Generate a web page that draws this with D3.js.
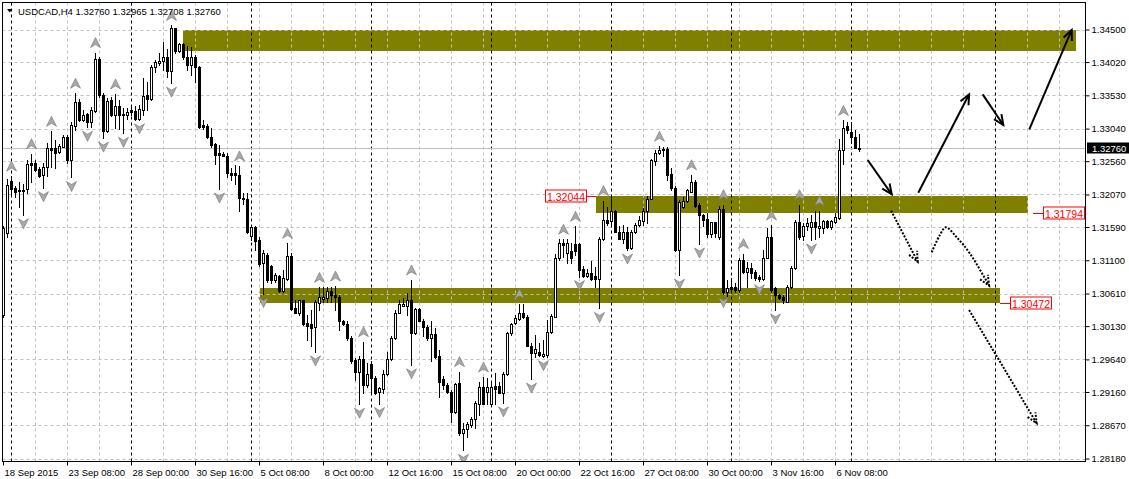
<!DOCTYPE html>
<html>
<head>
<meta charset="utf-8">
<script src="https://cdnjs.cloudflare.com/ajax/libs/d3/7.8.5/d3.min.js"></script>
<style>
body { margin: 0; background: #fff; }
svg { display: block; }
text { font-family: Tahoma, "Liberation Sans", Arial, sans-serif; }
</style>
</head>
<body>
<svg id="chart" width="1129" height="479"></svg>
<script>
"use strict";

var symbolTitle = "USDCAD,H4  1.32760 1.32965 1.32708 1.32760";
var lastPrice = 1.32760;
var barsPerLabel = 16;

var timeLabels = ["18 Sep 2015", "23 Sep 08:00", "28 Sep 00:00", "30 Sep 16:00", "5 Oct 08:00",
    "8 Oct 00:00", "12 Oct 16:00", "15 Oct 08:00", "20 Oct 00:00", "22 Oct 16:00",
    "27 Oct 08:00", "30 Oct 00:00", "3 Nov 16:00", "6 Nov 08:00"];

var priceTicks = [1.34500, 1.34020, 1.33530, 1.33040, 1.32560, 1.32070, 1.31590,
    1.31100, 1.30610, 1.30130, 1.29640, 1.29160, 1.28670, 1.28180];

// open, high, low, close (H4 bars, oldest first)
var ohlc = [
    [1.3029, 1.3160, 1.3027, 1.3158], [1.3150, 1.3230, 1.3144, 1.3221], [1.3227, 1.3234, 1.3206, 1.3215],
    [1.3217, 1.3220, 1.3203, 1.3211], [1.3213, 1.3225, 1.3189, 1.3212], [1.3212, 1.3222, 1.3177, 1.3213],
    [1.3215, 1.3258, 1.3209, 1.3252], [1.3253, 1.3267, 1.3225, 1.3251], [1.3253, 1.3258, 1.3242, 1.3243],
    [1.3245, 1.3248, 1.3233, 1.3234], [1.3235, 1.3254, 1.3217, 1.3248], [1.3248, 1.3283, 1.3234, 1.3276],
    [1.3276, 1.3300, 1.3248, 1.3273], [1.3275, 1.3287, 1.3246, 1.3268], [1.3270, 1.3282, 1.3268, 1.3279],
    [1.3277, 1.3295, 1.3277, 1.3292], [1.3292, 1.3295, 1.3253, 1.3258], [1.3258, 1.3314, 1.3232, 1.3309],
    [1.3308, 1.3356, 1.3302, 1.3343], [1.3343, 1.3347, 1.3315, 1.3317], [1.3317, 1.3331, 1.3315, 1.3324],
    [1.3325, 1.3327, 1.3306, 1.3313], [1.3313, 1.3336, 1.3306, 1.3331], [1.3330, 1.3416, 1.3329, 1.3406],
    [1.3406, 1.3410, 1.3351, 1.3353], [1.3353, 1.3356, 1.3290, 1.3301], [1.3301, 1.3349, 1.3299, 1.3345],
    [1.3346, 1.3351, 1.3322, 1.3324], [1.3324, 1.3355, 1.3305, 1.3337], [1.3337, 1.3346, 1.3304, 1.3324],
    [1.3326, 1.3335, 1.3297, 1.3324], [1.3324, 1.3334, 1.3318, 1.3328], [1.3331, 1.3339, 1.3324, 1.3329],
    [1.3330, 1.3337, 1.3317, 1.3318], [1.3318, 1.3339, 1.3317, 1.3333], [1.3332, 1.3378, 1.3324, 1.3352],
    [1.3353, 1.3373, 1.3331, 1.3347], [1.3347, 1.3398, 1.3346, 1.3395], [1.3395, 1.3405, 1.3388, 1.3402],
    [1.3400, 1.3415, 1.3398, 1.3404], [1.3403, 1.3431, 1.3390, 1.3409], [1.3409, 1.3421, 1.3380, 1.3389],
    [1.3389, 1.3456, 1.3371, 1.3452], [1.3452, 1.3452, 1.3415, 1.3418], [1.3418, 1.3430, 1.3417, 1.3428],
    [1.3428, 1.3430, 1.3406, 1.3409], [1.3409, 1.3425, 1.3390, 1.3398], [1.3398, 1.3424, 1.3383, 1.3409],
    [1.3409, 1.3412, 1.3373, 1.3395], [1.3395, 1.3396, 1.3305, 1.3307], [1.3309, 1.3317, 1.3304, 1.3306],
    [1.3308, 1.3311, 1.3290, 1.3291], [1.3292, 1.3305, 1.3277, 1.3280], [1.3281, 1.3283, 1.3252, 1.3265],
    [1.3268, 1.3280, 1.3215, 1.3265], [1.3267, 1.3270, 1.3263, 1.3264], [1.3264, 1.3268, 1.3232, 1.3238],
    [1.3239, 1.3246, 1.3228, 1.3236], [1.3238, 1.3250, 1.3223, 1.3235], [1.3236, 1.3249, 1.3183, 1.3202],
    [1.3202, 1.3209, 1.3193, 1.3200], [1.3201, 1.3209, 1.3150, 1.3151], [1.3146, 1.3160, 1.3140, 1.3159],
    [1.3159, 1.3160, 1.3125, 1.3139], [1.3140, 1.3144, 1.3101, 1.3105], [1.3106, 1.3125, 1.3061, 1.3121],
    [1.3118, 1.3121, 1.3078, 1.3081], [1.3101, 1.3103, 1.3076, 1.3081], [1.3081, 1.3091, 1.3078, 1.3088],
    [1.3087, 1.3088, 1.3064, 1.3065], [1.3065, 1.3096, 1.3064, 1.3084], [1.3083, 1.3135, 1.3081, 1.3116],
    [1.3116, 1.3121, 1.3037, 1.3038], [1.3040, 1.3052, 1.3032, 1.3033], [1.3033, 1.3052, 1.3029, 1.3051],
    [1.3051, 1.3052, 1.3015, 1.3016], [1.3018, 1.3029, 1.2993, 1.3013], [1.3016, 1.3037, 1.2984, 1.3010],
    [1.3011, 1.3052, 1.2975, 1.3048], [1.3047, 1.3070, 1.3037, 1.3056], [1.3053, 1.3070, 1.3049, 1.3056],
    [1.3054, 1.3070, 1.3049, 1.3065], [1.3065, 1.3070, 1.3049, 1.3059], [1.3059, 1.3072, 1.3037, 1.3056],
    [1.3056, 1.3059, 1.3007, 1.3020], [1.3021, 1.3022, 1.3015, 1.3016], [1.3016, 1.3020, 1.2993, 1.2995],
    [1.2995, 1.2998, 1.2958, 1.2961], [1.2963, 1.2966, 1.2934, 1.2946], [1.2946, 1.2969, 1.2898, 1.2964],
    [1.2964, 1.2990, 1.2914, 1.2926], [1.2927, 1.2958, 1.2924, 1.2943], [1.2957, 1.2961, 1.2916, 1.2936],
    [1.2936, 1.2939, 1.2913, 1.2915], [1.2916, 1.2924, 1.2899, 1.2922], [1.2921, 1.2948, 1.2914, 1.2942],
    [1.2943, 1.2975, 1.2941, 1.2964], [1.2964, 1.2998, 1.2963, 1.2995], [1.2995, 1.3037, 1.2994, 1.3033],
    [1.3033, 1.3052, 1.3032, 1.3046], [1.3043, 1.3054, 1.3042, 1.3046], [1.3042, 1.3062, 1.3029, 1.3052],
    [1.3052, 1.3081, 1.2956, 1.3003], [1.3003, 1.3040, 1.3001, 1.3038], [1.3038, 1.3040, 1.3020, 1.3021],
    [1.3021, 1.3023, 1.2998, 1.3011], [1.3012, 1.3015, 1.2993, 1.2995], [1.2995, 1.3020, 1.2961, 1.3001],
    [1.3001, 1.3010, 1.2966, 1.2968], [1.2969, 1.2978, 1.2909, 1.2931], [1.2935, 1.2939, 1.2921, 1.2926],
    [1.2926, 1.2929, 1.2914, 1.2916], [1.2916, 1.2919, 1.2872, 1.2886], [1.2886, 1.2929, 1.2885, 1.2928],
    [1.2929, 1.2946, 1.2853, 1.2856], [1.2856, 1.2870, 1.2830, 1.2861], [1.2861, 1.2872, 1.2850, 1.2869],
    [1.2867, 1.2879, 1.2865, 1.2876], [1.2876, 1.2902, 1.2863, 1.2900], [1.2899, 1.2931, 1.2882, 1.2924],
    [1.2924, 1.2938, 1.2898, 1.2899], [1.2916, 1.2936, 1.2899, 1.2924], [1.2899, 1.2931, 1.2898, 1.2924],
    [1.2925, 1.2944, 1.2899, 1.2921], [1.2925, 1.2931, 1.2914, 1.2915], [1.2915, 1.2946, 1.2900, 1.2943],
    [1.2943, 1.3005, 1.2941, 1.3003], [1.3003, 1.3018, 1.3000, 1.3016], [1.3017, 1.3029, 1.3016, 1.3025],
    [1.3024, 1.3046, 1.3022, 1.3033], [1.3033, 1.3046, 1.3025, 1.3026], [1.3026, 1.3029, 1.2983, 1.2984],
    [1.2984, 1.2988, 1.2935, 1.2974], [1.2974, 1.3000, 1.2968, 1.2979], [1.2975, 1.2988, 1.2969, 1.2970],
    [1.2969, 1.2993, 1.2968, 1.2972], [1.2971, 1.3022, 1.2968, 1.3005], [1.3005, 1.3031, 1.3003, 1.3028],
    [1.3027, 1.3119, 1.3026, 1.3113], [1.3113, 1.3142, 1.3111, 1.3136], [1.3136, 1.3141, 1.3115, 1.3133],
    [1.3121, 1.3141, 1.3106, 1.3136], [1.3123, 1.3135, 1.3106, 1.3113], [1.3134, 1.3160, 1.3118, 1.3123],
    [1.3134, 1.3136, 1.3086, 1.3096], [1.3097, 1.3101, 1.3086, 1.3087], [1.3087, 1.3097, 1.3086, 1.3091],
    [1.3092, 1.3109, 1.3081, 1.3082], [1.3087, 1.3100, 1.3071, 1.3082], [1.3082, 1.3145, 1.3039, 1.3142],
    [1.3142, 1.3198, 1.3140, 1.3169], [1.3169, 1.3189, 1.3162, 1.3165], [1.3168, 1.3203, 1.3160, 1.3182],
    [1.3183, 1.3184, 1.3151, 1.3152], [1.3152, 1.3160, 1.3141, 1.3142], [1.3142, 1.3162, 1.3135, 1.3151],
    [1.3151, 1.3159, 1.3125, 1.3128], [1.3128, 1.3154, 1.3126, 1.3151], [1.3151, 1.3165, 1.3150, 1.3162],
    [1.3162, 1.3175, 1.3161, 1.3169], [1.3168, 1.3187, 1.3162, 1.3182], [1.3182, 1.3204, 1.3165, 1.3201],
    [1.3201, 1.3259, 1.3200, 1.3258], [1.3257, 1.3273, 1.3250, 1.3268], [1.3268, 1.3278, 1.3266, 1.3273],
    [1.3273, 1.3277, 1.3263, 1.3274], [1.3274, 1.3277, 1.3228, 1.3236], [1.3237, 1.3246, 1.3214, 1.3216],
    [1.3216, 1.3219, 1.3124, 1.3125], [1.3125, 1.3199, 1.3088, 1.3196], [1.3189, 1.3203, 1.3187, 1.3198],
    [1.3198, 1.3215, 1.3196, 1.3213], [1.3211, 1.3236, 1.3210, 1.3225], [1.3225, 1.3228, 1.3189, 1.3190],
    [1.3192, 1.3194, 1.3134, 1.3177], [1.3177, 1.3178, 1.3160, 1.3169], [1.3171, 1.3179, 1.3145, 1.3149],
    [1.3149, 1.3167, 1.3145, 1.3166], [1.3166, 1.3167, 1.3145, 1.3150], [1.3145, 1.3190, 1.3142, 1.3185],
    [1.3185, 1.3192, 1.3061, 1.3064], [1.3064, 1.3081, 1.3057, 1.3069], [1.3071, 1.3084, 1.3064, 1.3067],
    [1.3071, 1.3077, 1.3064, 1.3066], [1.3066, 1.3113, 1.3064, 1.3111], [1.3111, 1.3120, 1.3091, 1.3093],
    [1.3093, 1.3107, 1.3071, 1.3098], [1.3098, 1.3106, 1.3084, 1.3092], [1.3093, 1.3096, 1.3081, 1.3084],
    [1.3085, 1.3088, 1.3080, 1.3082], [1.3082, 1.3125, 1.3081, 1.3114], [1.3114, 1.3157, 1.3113, 1.3144],
    [1.3145, 1.3162, 1.3064, 1.3066], [1.3069, 1.3070, 1.3037, 1.3059], [1.3059, 1.3061, 1.3053, 1.3054],
    [1.3056, 1.3059, 1.3047, 1.3051], [1.3049, 1.3074, 1.3048, 1.3071], [1.3071, 1.3101, 1.3069, 1.3098],
    [1.3098, 1.3169, 1.3097, 1.3167], [1.3167, 1.3192, 1.3142, 1.3145], [1.3146, 1.3165, 1.3140, 1.3161],
    [1.3160, 1.3172, 1.3155, 1.3165], [1.3159, 1.3177, 1.3140, 1.3167], [1.3167, 1.3182, 1.3142, 1.3159],
    [1.3157, 1.3183, 1.3145, 1.3161], [1.3157, 1.3170, 1.3150, 1.3168], [1.3168, 1.3169, 1.3157, 1.3159],
    [1.3159, 1.3169, 1.3156, 1.3168], [1.3167, 1.3180, 1.3165, 1.3174], [1.3172, 1.3288, 1.3171, 1.3273],
    [1.3272, 1.3316, 1.3252, 1.3305], [1.3308, 1.3313, 1.3297, 1.3302], [1.3299, 1.3313, 1.3283, 1.3291],
    [1.3291, 1.3302, 1.3275, 1.3276], [1.32760, 1.32965, 1.32708, 1.32760]
];

// bar indexes carrying a fractal mark
var fractalUp = [2, 7, 12, 18, 23, 28, 42, 59, 71, 79, 83, 90, 102, 114, 120, 129, 140, 143,
    150, 164, 172, 180, 185, 192, 199, 204, 210];
var fractalDown = [5, 10, 17, 21, 25, 30, 34, 42, 54, 65, 78, 89, 94, 102, 115, 125, 132, 135,
    144, 149, 156, 169, 174, 180, 189, 193, 202];

// weekly period separators (bar index)
var separators = [2, 32, 62, 92, 122, 152, 182, 212, 248];

// olive zones: bar index range and price range
var zones = [
    { from: 45, to: 268, top: 1.34500, bottom: 1.34183 },
    { from: 148, to: 256, top: 1.32044, bottom: 1.31794 },
    { from: 64, to: 249, top: 1.30687, bottom: 1.30472 }
];

var priceLabels = [
    { idx: 148, price: 1.32044, side: "left" },
    { idx: 257.3, price: 1.31794, side: "right" },
    { idx: 249.1, price: 1.30472, side: "right" }
];

// hand-drawn forecast arrows: [bar index, price]
var solidArrows = [
    [[216.05, 1.32578], [222.05, 1.32072]],
    [[228.7, 1.32096], [241.4, 1.33545]],
    [[244.8, 1.33545], [249.95, 1.33093]],
    [[256.45, 1.33030], [267.05, 1.34493]]
];
var dottedArrows = [
    [[221.9, 1.31831], [228.55, 1.31079]],
    [[232.05, 1.31218], [234.1, 1.31473], [235.6, 1.31586], [238.3, 1.31439], [241.6, 1.31200], [246.4, 1.30726]],
    [[241.4, 1.30368], [258.3, 1.28699]]
];

var svg = d3.select("#chart");
var plot = { left: 2.5, top: 2.5, right: 1085.5, bottom: 461.5 };

var x = d3.scaleLinear().domain([0, 270]).range([3.5, 1083.5]);
var y = d3.scaleLinear().domain([1.28180, 1.34500]).range([458.5, 29.5]);
function py(p) { return Math.round(y(p)) + 0.5; }

svg.append("defs").append("clipPath").attr("id", "plotClip")
    .append("rect")
    .attr("x", plot.left + 0.5).attr("y", plot.top + 0.5)
    .attr("width", plot.right - plot.left - 1).attr("height", plot.bottom - plot.top - 1);

var plotG = svg.append("g").attr("clip-path", "url(#plotClip)");

// zones
plotG.append("g").selectAll("rect").data(zones).enter().append("rect")
    .attr("x", function (d) { return Math.round(x(d.from)); })
    .attr("y", function (d) { return Math.round(y(d.top)); })
    .attr("width", function (d) { return Math.round(x(d.to)) - Math.round(x(d.from)); })
    .attr("height", function (d) { return Math.round(y(d.bottom)) - Math.round(y(d.top)); })
    .style("fill", "#808000");

// grid
var gridG = plotG.append("g").attr("class", "grid");
gridG.selectAll("line.h").data(priceTicks).enter().append("line")
    .attr("x1", plot.left).attr("x2", plot.right)
    .attr("y1", py).attr("y2", py)
    .style("stroke", "#c0c0c0").style("stroke-dasharray", "3,3");
gridG.selectAll("line.v").data(d3.range(8, 270, 8)).enter().append("line")
    .attr("x1", function (d) { return x(d); }).attr("x2", function (d) { return x(d); })
    .attr("y1", plot.top).attr("y2", plot.bottom)
    .style("stroke", "#c0c0c0").style("stroke-dasharray", "3,3");
gridG.selectAll("line.sep").data(separators).enter().append("line")
    .attr("x1", function (d) { return x(d); }).attr("x2", function (d) { return x(d); })
    .attr("y1", plot.top).attr("y2", plot.bottom)
    .style("stroke", "#000").style("stroke-dasharray", "3,3");

// current price line
plotG.append("line")
    .attr("x1", plot.left).attr("x2", plot.right)
    .attr("y1", py(lastPrice)).attr("y2", py(lastPrice))
    .style("stroke", "#c0c0c0");

// candles
var candleG = plotG.append("g").attr("class", "candles");
ohlc.forEach(function (d, i) {
    var cx = x(i);
    candleG.append("line")
        .attr("x1", cx).attr("x2", cx)
        .attr("y1", Math.round(y(d[1]))).attr("y2", Math.round(y(d[2])) + 1)
        .style("stroke", "#000");
    var top = Math.round(y(Math.max(d[0], d[3])));
    var bot = Math.round(y(Math.min(d[0], d[3])));
    candleG.append("rect")
        .attr("x", cx - 1).attr("y", top + 0.5)
        .attr("width", 2).attr("height", Math.max(bot - top, 1))
        .style("fill", d[3] > d[0] ? "#fff" : "#000")
        .style("stroke", "#000");
});

// fractals
var upShape = "M0,-5L5,5L0,2L-5,5Z";
var downShape = "M0,5L5,-5L0,-2L-5,-5Z";
plotG.append("g").selectAll("path").data(fractalUp).enter().append("path")
    .attr("d", upShape)
    .attr("transform", function (i) { return "translate(" + x(i) + "," + (y(ohlc[i][1]) - 10) + ")"; })
    .style("fill", "#a9a9a9").style("stroke", "#707070").style("stroke-width", 0.6);
plotG.append("g").selectAll("path").data(fractalDown).enter().append("path")
    .attr("d", downShape)
    .attr("transform", function (i) { return "translate(" + x(i) + "," + (y(ohlc[i][2]) + 9) + ")"; })
    .style("fill", "#a9a9a9").style("stroke", "#707070").style("stroke-width", 0.6);

// arrows
function drawArrow(g, pts, dotted) {
    var line = d3.line()
        .x(function (d) { return x(d[0]); })
        .y(function (d) { return y(d[1]); })
        .curve(pts.length > 2 ? d3.curveCatmullRom : d3.curveLinear);
    var n = pts.length;
    var x1 = x(pts[n - 2][0]), y1 = y(pts[n - 2][1]);
    var x2 = x(pts[n - 1][0]), y2 = y(pts[n - 1][1]);
    var a = Math.atan2(y2 - y1, x2 - x1);
    var len = 11, spread = 0.42;
    var head = "M" + (x2 - len * Math.cos(a - spread)) + "," + (y2 - len * Math.sin(a - spread)) +
        "L" + x2 + "," + y2 +
        "L" + (x2 - len * Math.cos(a + spread)) + "," + (y2 - len * Math.sin(a + spread));
    [line(pts), head].forEach(function (dPath) {
        g.append("path").attr("d", dPath)
            .style("fill", "none").style("stroke", "#000")
            .style("stroke-width", 2)
            .style("stroke-dasharray", dotted ? "2,1.5" : null);
    });
}
var arrowG = plotG.append("g");
solidArrows.forEach(function (p) { drawArrow(arrowG, p, false); });
dottedArrows.forEach(function (p) { drawArrow(arrowG, p, true); });

// price labels on zones
var fmt = d3.format(".5f");
priceLabels.forEach(function (d) {
    var yy = py(d.price);
    var x0 = Math.round(x(d.idx));
    var boxW = 41, lead = 10;
    var bx = d.side === "left" ? x0 - lead - boxW : x0 + lead;
    svg.append("line")
        .attr("x1", d.side === "left" ? x0 - lead : x0).attr("x2", d.side === "left" ? x0 : x0 + lead)
        .attr("y1", yy).attr("y2", yy)
        .style("stroke", "#ff0000");
    svg.append("rect")
        .attr("x", bx + 0.5).attr("y", yy - 6.5)
        .attr("width", boxW).attr("height", 12)
        .style("fill", "#fff").style("stroke", "#ff0000");
    svg.append("text")
        .attr("x", bx + 0.5 + boxW / 2).attr("y", yy + 4)
        .attr("text-anchor", "middle")
        .style("font-size", "10.5px").style("fill", "#ff0000")
        .text(fmt(d.price));
});

// frame
svg.append("rect")
    .attr("x", plot.left).attr("y", plot.top)
    .attr("width", plot.right - plot.left).attr("height", plot.bottom - plot.top)
    .style("fill", "none").style("stroke", "#000");

// right price axis
var yAxis = d3.axisRight(y).tickValues(priceTicks).tickFormat(fmt).tickSize(4).tickPadding(2);
var gY = svg.append("g").attr("transform", "translate(" + plot.right + ",0)").call(yAxis);
gY.select(".domain").remove();
gY.selectAll("text").style("font-size", "9.5px").style("font-family", "Tahoma, 'Liberation Sans', Arial, sans-serif");

// last price marker
var ly = py(lastPrice);
svg.append("rect").attr("x", 1087).attr("y", ly - 6).attr("width", 42).attr("height", 11).style("fill", "#000");
svg.append("text").attr("x", 1092).attr("y", ly + 3.5)
    .style("font-size", "9.5px").style("fill", "#fff")
    .text(fmt(lastPrice));

// bottom time axis
var xAxis = d3.axisBottom(x)
    .tickValues(timeLabels.map(function (t, i) { return i * barsPerLabel; }))
    .tickFormat(function (d, i) { return timeLabels[i]; })
    .tickSize(4).tickPadding(4);
var gX = svg.append("g").attr("transform", "translate(-0.5," + plot.bottom + ")").call(xAxis);
gX.select(".domain").remove();
gX.selectAll("text").attr("text-anchor", "start").attr("dx", 1)
    .style("font-size", "9.5px").style("font-family", "Tahoma, 'Liberation Sans', Arial, sans-serif");

// title
svg.append("path").attr("d", "M7,9L12.5,9L9.75,12.5Z").style("fill", "#000");
svg.append("text").attr("x", 18).attr("y", 14.5)
    .style("font-size", "9.5px").style("fill", "#000")
    .text(symbolTitle);
</script>
</body>
</html>
